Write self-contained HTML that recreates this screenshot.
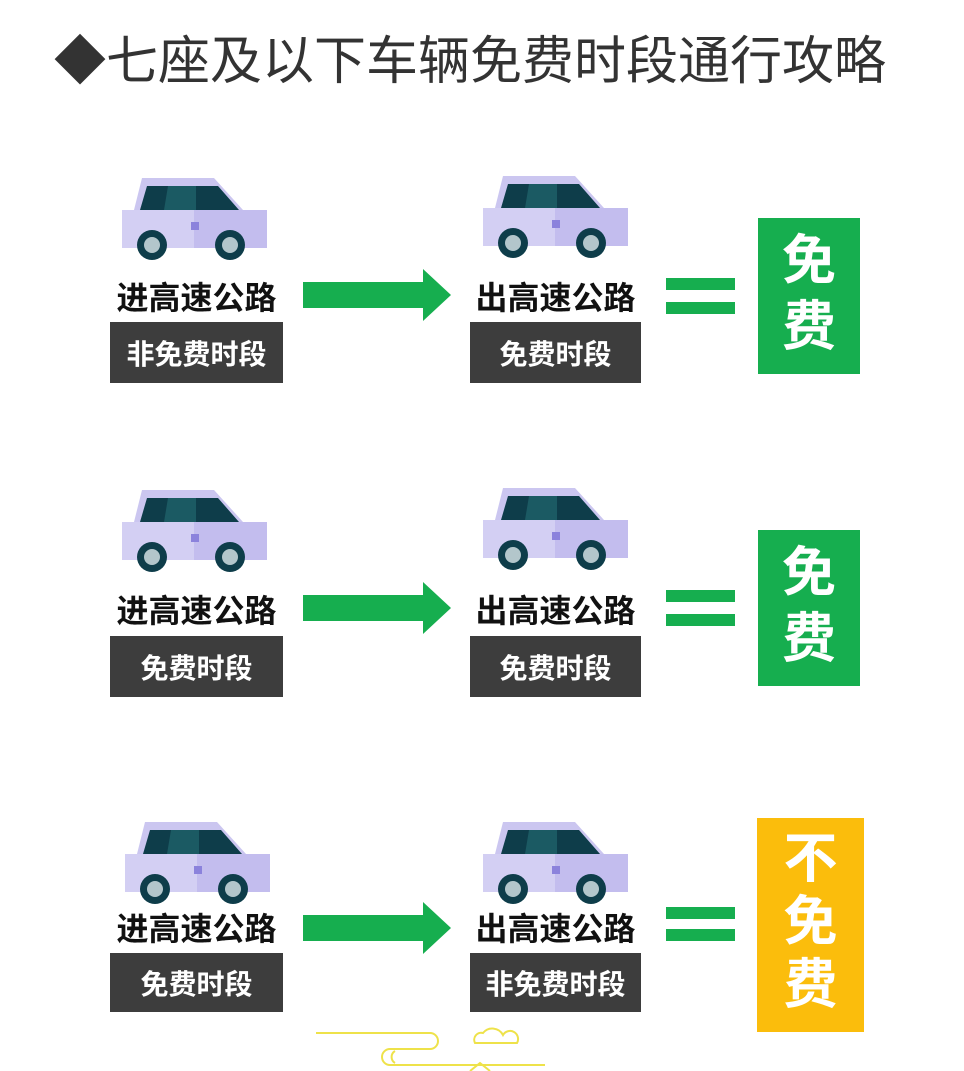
<!DOCTYPE html>
<html><head><meta charset="utf-8"><style>
body{margin:0;width:964px;height:1071px;background:#fff;position:relative;overflow:hidden;font-family:"Liberation Sans","Noto Sans CJK SC",sans-serif}
.a{position:absolute}
.t{position:absolute;text-align:center;font-weight:bold;color:#111;font-size:32px;line-height:34px;white-space:nowrap}
.box{position:absolute;background:#3d3d3d;color:#fff;font-weight:bold;font-size:28px;display:flex;align-items:center;justify-content:center;white-space:nowrap}
.eq{position:absolute;left:666px;width:69px;height:12px;background:#16ae4f}
.g{position:absolute;color:#fff;font-weight:bold;text-align:center}
</style></head><body>
<svg width="0" height="0" style="position:absolute"><defs>
<g id="car">
<polygon points="20,0 92,0 121,32 12,32" fill="#cbc6f0"/>
<polygon points="25,8 96,8 117,32 18,32" fill="#0e3d4a"/>
<polygon points="46,8 74,8 74,32 42,32" fill="#1b5a63"/>
<rect x="0" y="32" width="72" height="38" fill="#d3cff3"/>
<rect x="72" y="32" width="73" height="38" fill="#c3bdee"/>
<rect x="69" y="44" width="8" height="8" fill="#8b82dc"/>
<circle cx="30" cy="67" r="15" fill="#0e3d4a"/><circle cx="30" cy="67" r="8" fill="#b3c6cb"/>
<circle cx="108" cy="67" r="15" fill="#0e3d4a"/><circle cx="108" cy="67" r="8" fill="#b3c6cb"/>
</g>
<g id="arr"><rect x="0" y="-13" width="122" height="26" fill="#16ae4f"/><polygon points="120,-26 148,0 120,26" fill="#16ae4f"/></g>
</defs></svg>
<div class="a" style="left:54px;top:30px;font-size:52px;color:#333;line-height:64px;white-space:nowrap">◆七座及以下车辆免费时段通行攻略</div>
<svg class="a" style="left:0;top:0" width="964" height="1071">
<use href="#car" x="122" y="178"/><use href="#car" x="483" y="176"/>
<use href="#car" x="122" y="490"/><use href="#car" x="483" y="488"/>
<use href="#car" x="125" y="822"/><use href="#car" x="483" y="822"/>
<use href="#arr" x="303" y="295"/><use href="#arr" x="303" y="608"/><use href="#arr" x="303" y="928"/>
<g fill="none" stroke="#eee24a" stroke-width="2">
<path d="M316 1033 H430 a8 8 0 0 1 0 16 H390 a8 8 0 0 0 0 16 H545"/>
<path d="M395 1051 a7 7 0 0 0 0 12"/>
<path d="M475 1043 a7 7 0 0 1 8-10 a12 12 0 0 1 20 2 a7 7 0 0 1 14 8 Z"/>
<path d="M470 1071 l10-8 l10 8"/>
</g>
</svg>
<div class="t" style="left:110px;width:173px;top:281px">进高速公路</div>
<div class="t" style="left:470px;width:171px;top:281px">出高速公路</div>
<div class="box" style="left:110px;width:173px;top:322px;height:61px">非免费时段</div>
<div class="box" style="left:470px;width:171px;top:322px;height:61px">免费时段</div>
<div class="t" style="left:110px;width:173px;top:594px">进高速公路</div>
<div class="t" style="left:470px;width:171px;top:594px">出高速公路</div>
<div class="box" style="left:110px;width:173px;top:636px;height:61px">免费时段</div>
<div class="box" style="left:470px;width:171px;top:636px;height:61px">免费时段</div>
<div class="t" style="left:110px;width:173px;top:912px">进高速公路</div>
<div class="t" style="left:470px;width:171px;top:912px">出高速公路</div>
<div class="box" style="left:110px;width:173px;top:953px;height:59px">免费时段</div>
<div class="box" style="left:470px;width:171px;top:953px;height:59px">非免费时段</div>
<div class="eq" style="top:278px"></div><div class="eq" style="top:302px"></div>
<div class="eq" style="top:590px"></div><div class="eq" style="top:614px"></div>
<div class="eq" style="top:907px"></div><div class="eq" style="top:929px"></div>
<div class="g" style="left:758px;top:218px;width:102px;height:156px;background:#16ae4f;font-size:54px;line-height:66px;padding-top:10px;box-sizing:border-box">免<br>费</div>
<div class="g" style="left:758px;top:530px;width:102px;height:156px;background:#16ae4f;font-size:54px;line-height:66px;padding-top:10px;box-sizing:border-box">免<br>费</div>
<div class="g" style="left:757px;top:818px;width:107px;height:214px;background:#fbbd0c;font-size:54px;line-height:63px;padding-top:10px;box-sizing:border-box">不<br>免<br>费</div>
</body></html>
